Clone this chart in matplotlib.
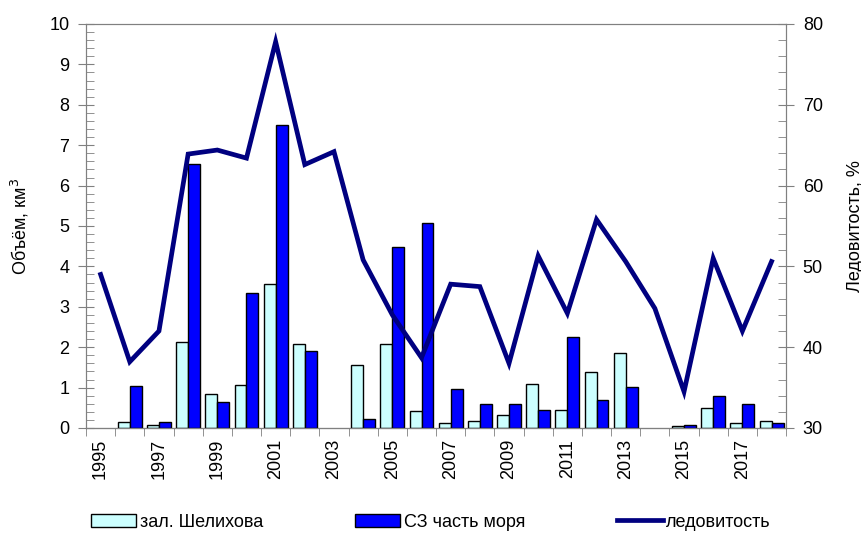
import numpy as np
import matplotlib
matplotlib.use("Agg")
import matplotlib.pyplot as plt
from matplotlib.ticker import MultipleLocator, FixedLocator

plt.rcParams['font.family'] = ['Liberation Sans', 'DejaVu Sans']

years = list(range(1995, 2019))
shelikhov = [0, 0.14, 0.08, 2.12, 0.83, 1.07, 3.57, 2.08, 0, 1.57, 2.08, 0.42,
             0.12, 0.18, 0.31, 1.10, 0.45, 1.38, 1.85, 0, 0.04, 0.50, 0.12, 0.18]
nw_part = [0, 1.03, 0.14, 6.53, 0.64, 3.34, 7.49, 1.90, 0, 0.23, 4.49, 5.08,
           0.96, 0.59, 0.59, 0.45, 2.26, 0.69, 1.02, 0, 0.08, 0.79, 0.59, 0.12]
ice_cover = [49.0, 38.2, 42.0, 63.9, 64.4, 63.4, 77.8, 62.6, 64.2, 50.8, 44.0, 38.7,
             47.8, 47.5, 38.0, 51.3, 44.2, 55.8, 50.6, 44.8, 34.5, 51.0, 42.0, 50.6]
year_labels = [str(y) if (y - 1995) % 2 == 0 else "" for y in years]

fs = 13
x = np.arange(len(years))
w = 0.41

# пустые годы не рисуем, чтобы не было рамок нулевой высоты
sh = np.array(shelikhov, dtype=float)
nw = np.array(nw_part, dtype=float)
sh[sh == 0] = np.nan
nw[nw == 0] = np.nan

fig = plt.figure(figsize=(8.62, 5.33), dpi=100)
ax = fig.add_axes([0.0998, 0.197, 0.8122, 0.758])

ax.bar(x - w / 2, sh, w, color="#CCFFFF", edgecolor="black", linewidth=1,
       label="зал. Шелихова")
ax.bar(x + w / 2, nw, w, color="#0000FF", edgecolor="black", linewidth=1,
       label="СЗ часть моря")
ax.set_xlim(-0.5, len(years) - 0.5)
ax.set_ylim(0, 10)
ax.yaxis.set_major_locator(MultipleLocator(1))
ax.yaxis.set_minor_locator(MultipleLocator(0.2))
ax.set_xticks(x)
ax.set_xticklabels(year_labels, rotation=90, fontsize=fs)
ax.xaxis.set_minor_locator(FixedLocator(np.arange(-0.5, len(years), 1)))
ax.tick_params(axis="x", which="major", length=0, pad=8)
ax.tick_params(axis="x", which="minor", length=6, direction="out", color="#808080")
ax.tick_params(axis="y", which="major", length=12, direction="inout", labelsize=fs,
               color="#808080", pad=6)
ax.tick_params(axis="y", which="minor", length=6, direction="in", color="#808080")
ax.set_ylabel("Объём, км$^3$", fontsize=fs, labelpad=13)
for s in ax.spines.values():
    s.set_color("#808080")
ax.spines["bottom"].set_color("black")

ax2 = ax.twinx()
ax2.plot(x, ice_cover, color="#000080", linewidth=3.4, label="ледовитость",
         solid_joinstyle="miter")
ax2.set_ylim(30, 80)
ax2.yaxis.set_major_locator(MultipleLocator(10))
ax2.yaxis.set_minor_locator(MultipleLocator(2))
ax2.tick_params(axis="y", which="major", length=12, direction="inout", labelsize=fs,
                color="#808080", pad=6)
ax2.tick_params(axis="y", which="minor", length=6, direction="in", color="#808080")
ax2.set_ylabel("Ледовитость, %", fontsize=fs, labelpad=17)
for s in ax2.spines.values():
    s.set_color("#808080")

h1, l1 = ax.get_legend_handles_labels()
h2, l2 = ax2.get_legend_handles_labels()
fig.legend(h1 + h2, l1 + l2, loc="center", bbox_to_anchor=(0.5, 0.02),
           ncol=3, frameon=False, fontsize=fs, handlelength=2.5,
           handleheight=0.75, handletextpad=0.2, columnspacing=5.1)

fig.savefig("out.png", dpi=100)
